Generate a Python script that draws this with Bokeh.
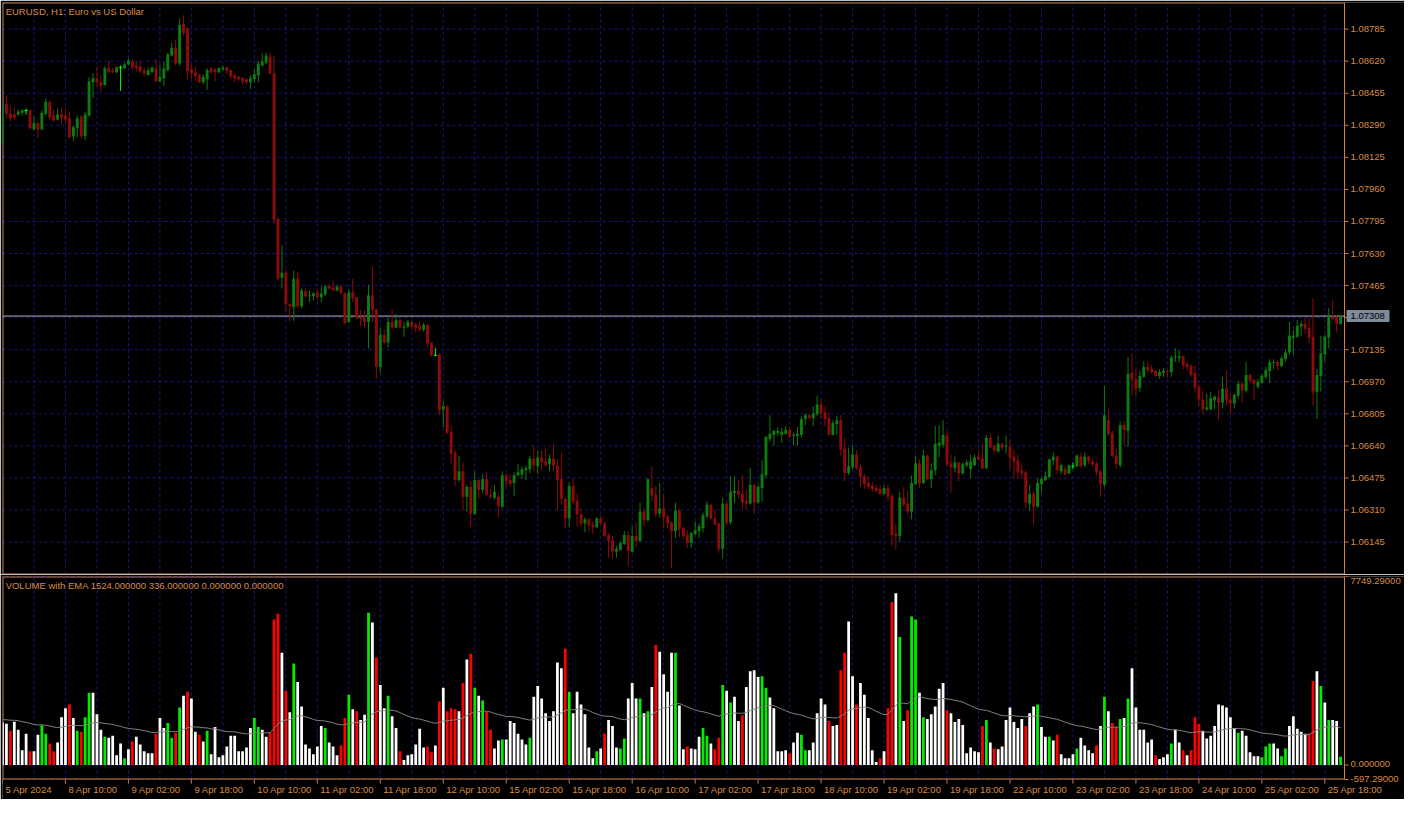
import numpy as np
from bokeh.plotting import figure
from bokeh.layouts import column
from bokeh.models import Range1d, Label, ColumnDataSource
from bokeh.core.properties import value
from bokeh.embed import file_html
from bokeh.resources import INLINE

# ---------------- data (EURUSD H1, 5 Apr 18:00 .. 25 Apr 22:00) ----------------
open_ = [
1.08194, 1.08401, 1.08350, 1.08345, 1.08345, 1.08355, 1.08366, 1.08366, 1.08269, 1.08300,
1.08269, 1.08350, 1.08411, 1.08340, 1.08320, 1.08345, 1.08340, 1.08325, 1.08234, 1.08275,
1.08335, 1.08234, 1.08340, 1.08512, 1.08532, 1.08512, 1.08497, 1.08583, 1.08573, 1.08563,
1.08588, 1.08583, 1.08603, 1.08618, 1.08598, 1.08593, 1.08573, 1.08548, 1.08563, 1.08583,
1.08517, 1.08532, 1.08573, 1.08649, 1.08689, 1.08608, 1.08811, 1.08790, 1.08578, 1.08563,
1.08548, 1.08512, 1.08527, 1.08583, 1.08578, 1.08563, 1.08578, 1.08588, 1.08573, 1.08548,
1.08538, 1.08532, 1.08527, 1.08512, 1.08527, 1.08548, 1.08598, 1.08613, 1.08644, 1.08558,
1.07809, 1.07506, 1.07531, 1.07369, 1.07354, 1.07501, 1.07359, 1.07435, 1.07410, 1.07410,
1.07430, 1.07405, 1.07420, 1.07465, 1.07455, 1.07440, 1.07460, 1.07425, 1.07278, 1.07430,
1.07405, 1.07303, 1.07298, 1.07278, 1.07415, 1.07344, 1.07046, 1.07212, 1.07172, 1.07278,
1.07248, 1.07288, 1.07248, 1.07253, 1.07278, 1.07263, 1.07258, 1.07238, 1.07263, 1.07172,
1.07106, 1.07111, 1.06828, 1.06843, 1.06712, 1.06606, 1.06464, 1.06509, 1.06378, 1.06429,
1.06287, 1.06464, 1.06413, 1.06469, 1.06388, 1.06373, 1.06378, 1.06327, 1.06489, 1.06464,
1.06449, 1.06489, 1.06494, 1.06515, 1.06520, 1.06575, 1.06535, 1.06580, 1.06560, 1.06545,
1.06575, 1.06540, 1.06469, 1.06368, 1.06267, 1.06434, 1.06358, 1.06287, 1.06241, 1.06262,
1.06236, 1.06221, 1.06267, 1.06241, 1.06181, 1.06155, 1.06095, 1.06105, 1.06135, 1.06181,
1.06095, 1.06176, 1.06150, 1.06302, 1.06257, 1.06423, 1.06388, 1.06292, 1.06317, 1.06277,
1.06246, 1.06201, 1.06307, 1.06216, 1.06181, 1.06140, 1.06186, 1.06201, 1.06216, 1.06277,
1.06337, 1.06267, 1.06241, 1.06110, 1.06343, 1.06246, 1.06398, 1.06408, 1.06393, 1.06358,
1.06343, 1.06439, 1.06348, 1.06423, 1.06489, 1.06676, 1.06697, 1.06707, 1.06697, 1.06702,
1.06722, 1.06692, 1.06692, 1.06697, 1.06778, 1.06798, 1.06783, 1.06803, 1.06853, 1.06813,
1.06783, 1.06697, 1.06752, 1.06772, 1.06626, 1.06499, 1.06530, 1.06595, 1.06530, 1.06484,
1.06449, 1.06434, 1.06423, 1.06418, 1.06393, 1.06423, 1.06383, 1.06186, 1.06176, 1.06373,
1.06343, 1.06302, 1.06444, 1.06550, 1.06449, 1.06590, 1.06469, 1.06515, 1.06641, 1.06646,
1.06692, 1.06550, 1.06525, 1.06555, 1.06499, 1.06540, 1.06520, 1.06540, 1.06585, 1.06575,
1.06525, 1.06681, 1.06641, 1.06611, 1.06651, 1.06636, 1.06636, 1.06585, 1.06565, 1.06515,
1.06504, 1.06343, 1.06393, 1.06327, 1.06444, 1.06464, 1.06479, 1.06565, 1.06585, 1.06509,
1.06520, 1.06499, 1.06535, 1.06535, 1.06585, 1.06540, 1.06585, 1.06560, 1.06550, 1.06509,
1.06439, 1.06772, 1.06707, 1.06590, 1.06540, 1.06747, 1.06717, 1.07015, 1.06985, 1.06939,
1.06995, 1.07046, 1.07035, 1.07025, 1.07000, 1.07015, 1.07025, 1.07020, 1.07096, 1.07091,
1.07101, 1.07061, 1.07051, 1.07015, 1.06944, 1.06879, 1.06828, 1.06828, 1.06874, 1.06889,
1.06863, 1.06934, 1.06879, 1.06858, 1.06899, 1.06960, 1.06924, 1.07005, 1.06980, 1.06944,
1.06965, 1.06995, 1.07025, 1.07066, 1.07071, 1.07051, 1.07086, 1.07121, 1.07197, 1.07202,
1.07253, 1.07268, 1.07248, 1.07202, 1.06919, 1.07000, 1.07111, 1.07197, 1.07303, 1.07303,
1.07268]

high = [
1.08406, 1.08446, 1.08391, 1.08381, 1.08371, 1.08376, 1.08376, 1.08371, 1.08335, 1.08310,
1.08366, 1.08431, 1.08416, 1.08371, 1.08376, 1.08381, 1.08376, 1.08361, 1.08290, 1.08340,
1.08340, 1.08361, 1.08538, 1.08558, 1.08593, 1.08548, 1.08593, 1.08623, 1.08588, 1.08593,
1.08598, 1.08613, 1.08634, 1.08629, 1.08618, 1.08618, 1.08588, 1.08588, 1.08593, 1.08629,
1.08603, 1.08618, 1.08664, 1.08715, 1.08730, 1.08841, 1.08856, 1.08795, 1.08603, 1.08593,
1.08558, 1.08553, 1.08583, 1.08588, 1.08583, 1.08588, 1.08598, 1.08593, 1.08578, 1.08558,
1.08543, 1.08538, 1.08532, 1.08548, 1.08578, 1.08623, 1.08659, 1.08664, 1.08664, 1.08649,
1.07814, 1.07673, 1.07546, 1.07374, 1.07541, 1.07536, 1.07450, 1.07450, 1.07440, 1.07430,
1.07445, 1.07460, 1.07470, 1.07475, 1.07491, 1.07470, 1.07470, 1.07430, 1.07445, 1.07501,
1.07405, 1.07339, 1.07339, 1.07470, 1.07561, 1.07344, 1.07248, 1.07238, 1.07298, 1.07344,
1.07319, 1.07293, 1.07278, 1.07288, 1.07283, 1.07273, 1.07283, 1.07273, 1.07268, 1.07172,
1.07142, 1.07116, 1.06874, 1.06848, 1.06747, 1.06616, 1.06590, 1.06555, 1.06439, 1.06459,
1.06509, 1.06469, 1.06494, 1.06504, 1.06418, 1.06439, 1.06398, 1.06509, 1.06499, 1.06494,
1.06504, 1.06545, 1.06535, 1.06540, 1.06590, 1.06641, 1.06616, 1.06616, 1.06626, 1.06595,
1.06651, 1.06570, 1.06606, 1.06373, 1.06449, 1.06474, 1.06393, 1.06317, 1.06272, 1.06267,
1.06252, 1.06272, 1.06282, 1.06252, 1.06191, 1.06176, 1.06125, 1.06150, 1.06201, 1.06201,
1.06226, 1.06246, 1.06348, 1.06322, 1.06474, 1.06535, 1.06434, 1.06449, 1.06393, 1.06287,
1.06252, 1.06348, 1.06317, 1.06226, 1.06206, 1.06196, 1.06252, 1.06241, 1.06297, 1.06353,
1.06343, 1.06312, 1.06246, 1.06373, 1.06353, 1.06484, 1.06484, 1.06464, 1.06489, 1.06418,
1.06525, 1.06444, 1.06439, 1.06565, 1.06692, 1.06798, 1.06722, 1.06737, 1.06732, 1.06742,
1.06737, 1.06707, 1.06737, 1.06793, 1.06808, 1.06803, 1.06843, 1.06899, 1.06879, 1.06843,
1.06813, 1.06772, 1.06793, 1.06798, 1.06681, 1.06631, 1.06646, 1.06616, 1.06545, 1.06494,
1.06484, 1.06454, 1.06439, 1.06439, 1.06439, 1.06439, 1.06393, 1.06236, 1.06403, 1.06429,
1.06408, 1.06489, 1.06590, 1.06570, 1.06621, 1.06595, 1.06550, 1.06742, 1.06747, 1.06772,
1.06717, 1.06595, 1.06585, 1.06560, 1.06555, 1.06570, 1.06595, 1.06595, 1.06616, 1.06646,
1.06697, 1.06707, 1.06646, 1.06692, 1.06656, 1.06692, 1.06676, 1.06621, 1.06595, 1.06550,
1.06515, 1.06439, 1.06408, 1.06474, 1.06479, 1.06509, 1.06575, 1.06606, 1.06590, 1.06550,
1.06535, 1.06545, 1.06555, 1.06595, 1.06606, 1.06606, 1.06590, 1.06580, 1.06555, 1.06515,
1.06949, 1.06828, 1.06717, 1.06626, 1.06767, 1.06767, 1.07096, 1.07116, 1.07035, 1.07025,
1.07076, 1.07076, 1.07056, 1.07030, 1.07035, 1.07040, 1.07030, 1.07106, 1.07142, 1.07132,
1.07106, 1.07071, 1.07061, 1.07051, 1.06960, 1.06924, 1.06909, 1.06919, 1.06899, 1.06929,
1.06995, 1.07025, 1.06909, 1.06909, 1.06975, 1.06970, 1.07071, 1.07010, 1.06985, 1.06985,
1.07010, 1.07046, 1.07086, 1.07086, 1.07081, 1.07101, 1.07137, 1.07278, 1.07238, 1.07288,
1.07283, 1.07298, 1.07298, 1.07400, 1.07035, 1.07207, 1.07212, 1.07349, 1.07389, 1.07308,
1.07314]

low = [
1.08183, 1.08325, 1.08310, 1.08315, 1.08340, 1.08340, 1.08345, 1.08269, 1.08264, 1.08224,
1.08264, 1.08340, 1.08315, 1.08310, 1.08315, 1.08295, 1.08300, 1.08224, 1.08209, 1.08229,
1.08224, 1.08214, 1.08335, 1.08431, 1.08492, 1.08462, 1.08492, 1.08558, 1.08558, 1.08558,
1.08467, 1.08578, 1.08598, 1.08573, 1.08568, 1.08558, 1.08543, 1.08548, 1.08558, 1.08512,
1.08512, 1.08492, 1.08568, 1.08644, 1.08598, 1.08598, 1.08750, 1.08527, 1.08527, 1.08517,
1.08507, 1.08502, 1.08472, 1.08553, 1.08517, 1.08558, 1.08568, 1.08553, 1.08527, 1.08512,
1.08517, 1.08502, 1.08502, 1.08477, 1.08507, 1.08512, 1.08593, 1.08603, 1.08553, 1.07784,
1.07491, 1.07450, 1.07329, 1.07283, 1.07283, 1.07349, 1.07349, 1.07405, 1.07379, 1.07389,
1.07395, 1.07379, 1.07410, 1.07445, 1.07440, 1.07435, 1.07420, 1.07263, 1.07273, 1.07379,
1.07293, 1.07258, 1.07248, 1.07142, 1.07273, 1.06985, 1.07015, 1.07167, 1.07147, 1.07243,
1.07248, 1.07243, 1.07202, 1.07248, 1.07238, 1.07223, 1.07228, 1.07228, 1.07147, 1.07101,
1.07101, 1.06798, 1.06737, 1.06702, 1.06545, 1.06434, 1.06454, 1.06307, 1.06302, 1.06221,
1.06287, 1.06368, 1.06398, 1.06383, 1.06368, 1.06363, 1.06272, 1.06322, 1.06423, 1.06429,
1.06383, 1.06484, 1.06469, 1.06464, 1.06499, 1.06509, 1.06494, 1.06515, 1.06535, 1.06509,
1.06509, 1.06307, 1.06337, 1.06216, 1.06221, 1.06337, 1.06226, 1.06226, 1.06196, 1.06201,
1.06186, 1.06216, 1.06236, 1.06171, 1.06064, 1.06059, 1.06064, 1.06100, 1.06130, 1.06019,
1.06090, 1.06120, 1.06145, 1.06226, 1.06252, 1.06353, 1.06272, 1.06272, 1.06216, 1.06216,
1.06009, 1.06166, 1.06171, 1.06160, 1.06115, 1.06115, 1.06181, 1.06166, 1.06196, 1.06267,
1.06262, 1.06231, 1.06090, 1.06059, 1.06236, 1.06236, 1.06348, 1.06373, 1.06317, 1.06312,
1.06337, 1.06292, 1.06343, 1.06353, 1.06474, 1.06661, 1.06641, 1.06692, 1.06656, 1.06697,
1.06681, 1.06641, 1.06641, 1.06681, 1.06747, 1.06772, 1.06742, 1.06793, 1.06778, 1.06742,
1.06692, 1.06692, 1.06697, 1.06590, 1.06459, 1.06489, 1.06520, 1.06515, 1.06429, 1.06418,
1.06418, 1.06403, 1.06403, 1.06388, 1.06388, 1.06353, 1.06130, 1.06105, 1.06145, 1.06327,
1.06287, 1.06262, 1.06439, 1.06423, 1.06444, 1.06464, 1.06423, 1.06489, 1.06580, 1.06631,
1.06535, 1.06398, 1.06504, 1.06459, 1.06489, 1.06530, 1.06474, 1.06535, 1.06565, 1.06520,
1.06520, 1.06626, 1.06600, 1.06606, 1.06616, 1.06600, 1.06520, 1.06469, 1.06474, 1.06469,
1.06322, 1.06307, 1.06236, 1.06322, 1.06398, 1.06459, 1.06474, 1.06540, 1.06499, 1.06494,
1.06489, 1.06494, 1.06520, 1.06530, 1.06530, 1.06530, 1.06545, 1.06535, 1.06489, 1.06378,
1.06429, 1.06692, 1.06580, 1.06525, 1.06530, 1.06641, 1.06636, 1.06899, 1.06894, 1.06919,
1.06990, 1.07015, 1.07010, 1.06995, 1.06985, 1.06995, 1.06990, 1.06995, 1.07071, 1.07071,
1.07035, 1.07030, 1.06995, 1.06914, 1.06843, 1.06803, 1.06818, 1.06823, 1.06828, 1.06772,
1.06833, 1.06848, 1.06803, 1.06833, 1.06884, 1.06863, 1.06914, 1.06960, 1.06879, 1.06934,
1.06960, 1.06985, 1.06965, 1.07035, 1.07030, 1.07046, 1.07076, 1.07111, 1.07106, 1.07197,
1.07207, 1.07218, 1.07167, 1.06848, 1.06778, 1.06919, 1.07071, 1.07142, 1.07288, 1.07223,
1.07263]

close = [
1.08396, 1.08350, 1.08325, 1.08330, 1.08361, 1.08366, 1.08366, 1.08275, 1.08300, 1.08269,
1.08355, 1.08411, 1.08330, 1.08315, 1.08345, 1.08330, 1.08320, 1.08229, 1.08280, 1.08325,
1.08234, 1.08345, 1.08517, 1.08532, 1.08512, 1.08492, 1.08583, 1.08563, 1.08563, 1.08588,
1.08588, 1.08603, 1.08623, 1.08588, 1.08583, 1.08568, 1.08558, 1.08573, 1.08588, 1.08517,
1.08538, 1.08583, 1.08654, 1.08689, 1.08608, 1.08806, 1.08765, 1.08568, 1.08558, 1.08543,
1.08512, 1.08538, 1.08573, 1.08563, 1.08563, 1.08583, 1.08588, 1.08568, 1.08543, 1.08532,
1.08527, 1.08517, 1.08512, 1.08532, 1.08553, 1.08608, 1.08618, 1.08649, 1.08558, 1.07804,
1.07501, 1.07531, 1.07369, 1.07359, 1.07501, 1.07359, 1.07440, 1.07410, 1.07415, 1.07425,
1.07405, 1.07425, 1.07460, 1.07450, 1.07440, 1.07460, 1.07425, 1.07273, 1.07430, 1.07400,
1.07298, 1.07293, 1.07278, 1.07415, 1.07339, 1.07046, 1.07212, 1.07172, 1.07278, 1.07248,
1.07288, 1.07248, 1.07253, 1.07278, 1.07253, 1.07248, 1.07238, 1.07263, 1.07167, 1.07106,
1.07106, 1.06823, 1.06843, 1.06707, 1.06600, 1.06464, 1.06509, 1.06378, 1.06429, 1.06292,
1.06464, 1.06413, 1.06469, 1.06388, 1.06378, 1.06403, 1.06332, 1.06489, 1.06459, 1.06444,
1.06489, 1.06504, 1.06520, 1.06525, 1.06575, 1.06540, 1.06580, 1.06555, 1.06540, 1.06575,
1.06540, 1.06464, 1.06368, 1.06267, 1.06434, 1.06353, 1.06287, 1.06241, 1.06262, 1.06231,
1.06221, 1.06267, 1.06241, 1.06176, 1.06150, 1.06095, 1.06110, 1.06140, 1.06181, 1.06100,
1.06176, 1.06150, 1.06302, 1.06257, 1.06469, 1.06383, 1.06292, 1.06317, 1.06272, 1.06241,
1.06201, 1.06307, 1.06211, 1.06176, 1.06140, 1.06191, 1.06206, 1.06226, 1.06282, 1.06337,
1.06267, 1.06236, 1.06110, 1.06343, 1.06241, 1.06403, 1.06408, 1.06388, 1.06348, 1.06343,
1.06439, 1.06348, 1.06429, 1.06494, 1.06686, 1.06702, 1.06717, 1.06717, 1.06712, 1.06722,
1.06686, 1.06697, 1.06702, 1.06778, 1.06798, 1.06783, 1.06808, 1.06853, 1.06808, 1.06778,
1.06697, 1.06757, 1.06772, 1.06621, 1.06499, 1.06535, 1.06595, 1.06525, 1.06479, 1.06444,
1.06429, 1.06418, 1.06408, 1.06393, 1.06423, 1.06378, 1.06181, 1.06176, 1.06373, 1.06337,
1.06302, 1.06449, 1.06550, 1.06449, 1.06590, 1.06469, 1.06515, 1.06651, 1.06656, 1.06697,
1.06545, 1.06530, 1.06555, 1.06499, 1.06545, 1.06555, 1.06560, 1.06580, 1.06570, 1.06525,
1.06681, 1.06631, 1.06616, 1.06651, 1.06631, 1.06641, 1.06580, 1.06560, 1.06504, 1.06499,
1.06348, 1.06393, 1.06327, 1.06449, 1.06469, 1.06484, 1.06570, 1.06585, 1.06515, 1.06540,
1.06494, 1.06540, 1.06535, 1.06590, 1.06535, 1.06585, 1.06560, 1.06545, 1.06504, 1.06444,
1.06798, 1.06702, 1.06590, 1.06545, 1.06747, 1.06722, 1.07010, 1.06980, 1.06934, 1.07000,
1.07046, 1.07030, 1.07020, 1.07000, 1.07020, 1.07025, 1.07020, 1.07096, 1.07101, 1.07101,
1.07056, 1.07046, 1.07005, 1.06939, 1.06879, 1.06828, 1.06838, 1.06884, 1.06894, 1.06863,
1.06934, 1.06874, 1.06858, 1.06904, 1.06960, 1.06924, 1.07005, 1.06975, 1.06960, 1.06970,
1.07000, 1.07030, 1.07071, 1.07071, 1.07051, 1.07091, 1.07121, 1.07207, 1.07207, 1.07258,
1.07268, 1.07243, 1.07197, 1.06914, 1.07005, 1.07116, 1.07202, 1.07309, 1.07293, 1.07268,
1.07308]

volume = [
1740, 1700, 1405, 1780, 1445, 602, 1284, 562, 562, 1244,
1632, 1284, 883, 562, 923, 1967, 2328, 2489, 1927, 1405,
1365, 1967, 2970, 2970, 2087, 1445, 1164, 1124, 1204, 401,
883, 281, 642, 963, 1164, 843, 562, 482, 482, 1284,
1927, 1525, 1726, 1124, 1325, 2368, 2850, 3011, 2730, 1365,
1244, 963, 1405, 442, 1565, 321, 401, 763, 1204, 1204,
562, 562, 723, 1525, 1927, 1565, 1445, 1164, 1325, 5981,
6222, 4616, 3051, 2168, 4175, 3412, 2408, 843, 682, 442,
763, 1606, 1525, 923, 763, 401, 803, 1927, 2890, 2288,
2208, 1846, 2061, 6262, 5860, 4415, 3291, 2328, 2850, 2007,
1525, 562, 201, 401, 442, 843, 1485, 723, 763, 522,
803, 2609, 3171, 2208, 2328, 2288, 2208, 3372, 4335, 4576,
3171, 2850, 2649, 2181, 1445, 682, 1004, 1044, 1044, 1806,
1726, 1284, 1044, 843, 1124, 2810, 3251, 2730, 2127, 1806,
2208, 4215, 3974, 4777, 3011, 2127, 3011, 2489, 2087, 723,
281, 562, 682, 1284, 1846, 1606, 723, 682, 1084, 2730,
3372, 2730, 2730, 2127, 2208, 3211, 4937, 4656, 3733, 3011,
4616, 4616, 2449, 642, 763, 682, 642, 1164, 1525, 1204,
883, 642, 1124, 3291, 3051, 2569, 2810, 1806, 2047, 3211,
3853, 3894, 3613, 3653, 3171, 2770, 2328, 562, 562, 602,
482, 923, 1325, 1244, 602, 602, 923, 2127, 2730, 2489,
1806, 1606, 1646, 3894, 4616, 5901, 3653, 2489, 3372, 2890,
1927, 602, 120, 281, 562, 2328, 6703, 7065, 5258, 1806,
2248, 6101, 5981, 2970, 1967, 1887, 2087, 2408, 3131, 3372,
2248, 2127, 1766, 1887, 1646, 482, 723, 562, 522, 1606,
1846, 923, 682, 642, 763, 1846, 2368, 1766, 1525, 1887,
1606, 2127, 2408, 2489, 1565, 1164, 1164, 1004, 1244, 442,
281, 281, 442, 682, 1124, 803, 602, 482, 803, 1606,
2810, 2208, 1726, 1565, 1887, 1927, 2730, 3974, 2368, 1445,
1445, 923, 1044, 401, 241, 321, 442, 883, 1445, 923,
602, 401, 602, 1967, 1686, 1405, 1084, 1204, 1606, 2489,
2449, 2368, 1967, 1525, 1325, 1405, 1204, 522, 361, 361,
321, 763, 883, 883, 682, 361, 682, 1606, 2007, 1485,
1365, 1284, 1284, 3452, 3853, 3251, 2569, 1846, 1846, 1806,
336]

# volume bar colour class per bar: w = white, r = red, g = green
vol_colors = (
    "wwrwwwwrww" "ggrrwwwrwg" "rggwwwgwww" "wgwrwwwwwr" "wwggrgwrww"
    "rwgwwwwwww" "wwwwggwwrr" "rwrwgwwwww" "wwgwwwrrgw" "rwwgwrwwgw"
    "wrwwwwwwrr" "wrwrrrwrwr" "gwgrrwwgww" "wwwwgwwwww" "wwwrgwwwww"
    "wgwrwwwggw" "wwgwgwrwww" "wgwwrwwwgg" "wrrgwgwwrw" "wwwggwwwww"
    "rwwggwwwww" "rwwrrwwrww" "wwwrwrrwgw" "rggwgwwwww" "rwwwwwwwwr"
    "gwrwwwwwww" "rwwgwwgwrw" "wwwgwwwwrw" "gwrrgwgwww" "wwwrwwwgww"
    "rwrrrwwwww" "wwwwgwwwww" "gggwwggwww" "wwrrwgwgww" "g")

ema_period = 50
ema_start = 1870.0

x_tick_labels = ["5 Apr 2024", "8 Apr 10:00", "9 Apr 02:00", "9 Apr 18:00", "10 Apr 10:00",
                 "11 Apr 02:00", "11 Apr 18:00", "12 Apr 10:00", "15 Apr 02:00", "15 Apr 18:00",
                 "16 Apr 10:00", "17 Apr 02:00", "17 Apr 18:00", "18 Apr 10:00", "19 Apr 02:00",
                 "19 Apr 18:00", "22 Apr 10:00", "23 Apr 02:00", "23 Apr 18:00", "24 Apr 10:00",
                 "25 Apr 02:00", "25 Apr 18:00"]
bars_per_label = 16
bars_per_grid = 8

price_ticks = [1.06145, 1.06310, 1.06475, 1.06640, 1.06805, 1.06970, 1.07135, 1.07300, 1.07465,
               1.07630, 1.07795, 1.07960, 1.08125, 1.08290, 1.08455, 1.08620, 1.08785]
price_range = (1.05978, 1.08922)
vol_ticks = [-597.29, 0.0, 7749.29]
vol_tick_labels = ["-597.29000", "0.000000", "7749.29000"]
last_price = 1.07308
title_price = "EURUSD, H1:  Euro vs US Dollar"
title_vol = "VOLUME with EMA 1524.000000 336.000000 0.000000 0.000000"

# ---------------- styling / geometry ----------------
n = len(close)
assert all(len(a) == n for a in (open_, high, low, volume)) and len(vol_colors) == n

BG = "#000000"
TXT = "#d98a45"
FRAME = "#cf8040"
GRID = "#18187f"
BULL = "#0e7c0e"
BEAR = "#8c0b0b"
DOJI = "#00ff00"
VCOL = {"w": "#ffffff", "r": "#ff0000", "g": "#00ee00"}
FONT = "Liberation Sans"
FS = "9.5px"

FW_ALL = 1402          # frame incl. the price-scale strip on the right
FW_BARS = 1342         # part of the frame used by the bars
H1 = 572               # price panel height
H2 = 203               # volume panel height
LAB = 20               # strip below the volume panel for the time scale
px = n / FW_BARS       # data x-units per pixel
x_end = FW_ALL * px
dy1 = (price_range[1] - price_range[0]) / H1
vmin, vmax = vol_ticks[0], vol_ticks[-1]
dy2 = (vmax - vmin) / H2

x = np.arange(n)
o = np.array(open_); h = np.array(high); l = np.array(low); c = np.array(close)
ccol = np.where(c > o, BULL, np.where(c < o, BEAR, DOJI))
src = ColumnDataSource(dict(x=x, o=o, h=h, l=l, c=c, top=np.maximum(o, c),
                            bot=np.minimum(o, c), col=ccol))
dj = c == o
dsrc = ColumnDataSource(dict(x0=x[dj] - 0.4, x1=x[dj] + 0.4, y=o[dj]))

alpha = 2.0 / (ema_period + 1)
ema = []
e = ema_start
for v in volume:
    e = e + alpha * (v - e)
    ema.append(e)
vsrc = ColumnDataSource(dict(x=x, v=volume, col=[VCOL[k] for k in vol_colors], ema=ema))

xr = Range1d(0, x_end)
grid_ticks = list(range(0, n, bars_per_grid))
label_pos = [i * bars_per_label for i in range(len(x_tick_labels))]


def base_fig(height, yr, top):
    p = figure(frame_width=FW_ALL, frame_height=height, x_range=xr, y_range=yr,
               toolbar_location=None, output_backend="svg",
               x_axis_location=None, y_axis_location=None,
               min_border_left=2, min_border_right=0, min_border_top=top,
               min_border_bottom=0, background_fill_color=BG,
               border_fill_color=BG, outline_line_color=None, tools="")
    for g in p.xgrid + p.ygrid:
        g.visible = False
    return p


def txt(p, xs, ys, labels, baseline, color=TXT):
    p.text(x=xs, y=ys, text=labels, text_baseline=baseline, text_align="left",
           text_color=color, text_font=value(FONT), text_font_size=value(FS))


def frame_and_grid(p, ymin, ymax, dy, ticks):
    p.segment(x0=grid_ticks, x1=grid_ticks, y0=ymin, y1=ymax,
              line_color=GRID, line_dash="3 3", line_width=1)
    p.segment(x0=0, x1=n, y0=ticks, y1=ticks, line_color=GRID, line_dash="3 3", line_width=1)
    hx, hy = 0.5 * px, 0.5 * dy
    p.segment(x0=[0, 0, hx, n], x1=[n, n, hx, n],
              y0=[ymax - hy, ymin + hy, ymin, ymin], y1=[ymax - hy, ymin + hy, ymax, ymax],
              line_color=FRAME, line_width=1)
    p.segment(x0=n, x1=n + 4 * px, y0=ticks, y1=ticks, line_color=FRAME, line_width=1)


# ---------------- price panel ----------------
p1 = base_fig(H1, Range1d(*price_range), 2)
frame_and_grid(p1, price_range[0], price_range[1], dy1, price_ticks)
txt(p1, [n + 6 * px] * len(price_ticks), price_ticks, [f"{t:.5f}" for t in price_ticks], "middle")

p1.segment(x0=[0], x1=[n], y0=[last_price], y1=[last_price], line_color="#b4b4b4", line_width=1)
p1.segment(x0="x", y0="l", x1="x", y1="h", line_color="col", line_width=1, source=src)
p1.vbar(x="x", width=0.74, top="top", bottom="bot", fill_color="col", line_color=None, source=src)
p1.segment(x0="x0", y0="y", x1="x1", y1="y", line_color=DOJI, line_width=1, source=dsrc)

p1.quad(left=[n + 2 * px], right=[n + 45 * px], top=[last_price + 6 * dy1],
        bottom=[last_price - 6 * dy1], fill_color="#7d8b9b", line_color=None)
txt(p1, [n + 6 * px], [last_price], [f"{last_price:.5f}"], "middle", color="#000000")

p1.add_layout(Label(x=0.8, y=price_range[1] - 3 * dy1, text=title_price, text_baseline="top",
                    text_color=TXT, text_font=FONT, text_font_size=FS))

# ---------------- volume panel (with time scale strip) ----------------
p2 = base_fig(H2 + LAB, Range1d(vmin - LAB * dy2, vmax), 2)
frame_and_grid(p2, vmin, vmax, dy2, vol_ticks)
txt(p2, [n + 6 * px], [vmax - 1 * dy2], [vol_tick_labels[2]], "top")
txt(p2, [n + 6 * px], [vol_ticks[1] + 1 * dy2], [vol_tick_labels[1]], "middle")
txt(p2, [n + 6 * px], [vmin - 2 * dy2], [vol_tick_labels[0]], "bottom")

p2.segment(x0=label_pos, x1=label_pos, y0=vmin, y1=vmin - 4 * dy2, line_color=FRAME, line_width=1)
txt(p2, [pos + 3 * px for pos in label_pos], [vmin - 4 * dy2] * len(label_pos), x_tick_labels, "top")

p2.vbar(x="x", width=0.7, top="v", bottom=0, fill_color="col", line_color=None, source=vsrc)
p2.line(x="x", y="ema", line_color="#808080", line_width=1, source=vsrc)
p2.add_layout(Label(x=0.8, y=vmax - 3 * dy2, text=title_vol, text_baseline="top",
                    text_color=TXT, text_font=FONT, text_font_size=FS))

layout = column(p1, p2, spacing=0)
open("out.html", "w").write(file_html(layout, INLINE))
